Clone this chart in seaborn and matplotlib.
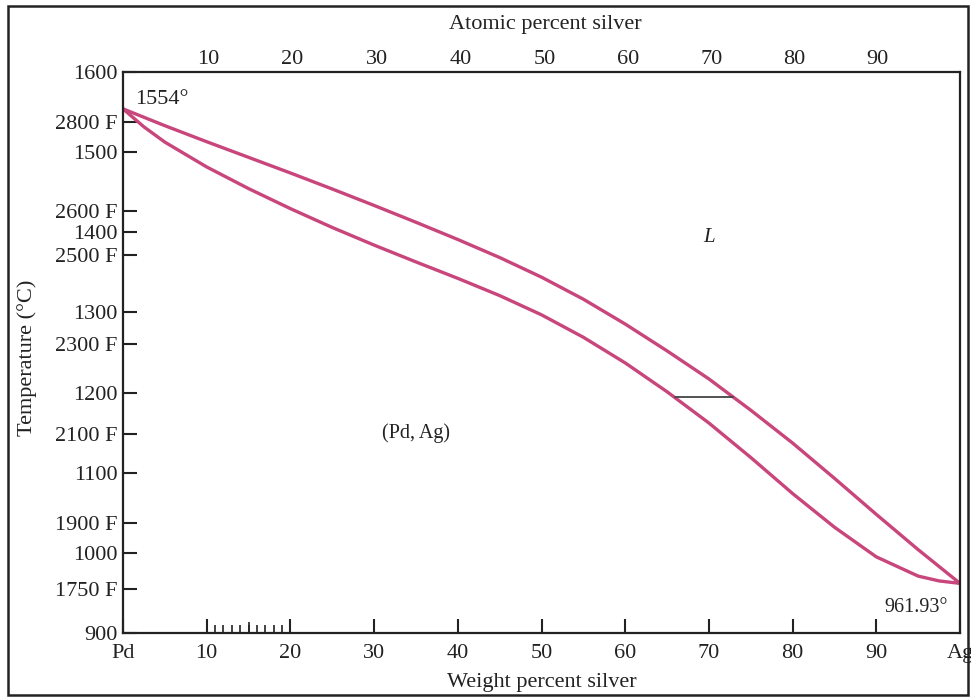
import numpy as np
import pandas as pd
import seaborn as sns
import matplotlib.pyplot as plt
from matplotlib.patches import Rectangle

# liquidus / solidus of Pd-Ag (wt% Ag, deg C)
liq_wt = [0, 5, 10, 15, 20, 25, 30, 35, 40, 45, 50, 55, 60, 65, 70, 75, 80, 85, 90, 95, 100]
liq_c = [1554, 1533, 1513, 1493.5, 1474, 1454, 1433.5, 1412.5, 1391, 1368.5, 1344,
         1316.5, 1285.5, 1252, 1217, 1178, 1137, 1093, 1048, 1004, 961.93]
sol_wt = [0, 2.5, 5, 10, 15, 20, 25, 30, 35, 40, 45, 50, 55, 60, 65, 70, 75, 80, 85,
          90, 95, 97.5, 100]
sol_c = [1554, 1531.5, 1512.5, 1481.5, 1454.5, 1429.5, 1406, 1384, 1363, 1342.5, 1321,
         1297, 1269, 1237, 1201, 1162, 1119, 1074, 1032, 995, 971, 965, 961.93]

tie_wt = [65.9, 72.9]
tie_c = [1194, 1194]

celsius_ticks = [900, 1000, 1100, 1200, 1300, 1400, 1500, 1600]
fahr_ticks = [2800, 2600, 2500, 2300, 2100, 1900, 1750]
wt_ticks = [0, 10, 20, 30, 40, 50, 60, 70, 80, 90, 100]
wt_labels = ['Pd', '10', '20', '30', '40', '50', '60', '70', '80', '90', 'Ag']
at_ticks = [10, 20, 30, 40, 50, 60, 70, 80, 90]

M_PD, M_AG = 106.42, 107.87
CURVE = '#c8467c'
INK = '#222222'


def wt_to_at(w):
    w = np.asarray(w, dtype=float)
    return 100 * (w / M_AG) / (w / M_AG + (100 - w) / M_PD)


def at_to_wt(a):
    a = np.asarray(a, dtype=float)
    return 100 * (a * M_AG) / (a * M_AG + (100 - a) * M_PD)


sns.set_theme(style='white')
plt.rcParams['font.family'] = ['Liberation Serif', 'DejaVu Serif']
plt.rcParams['text.color'] = INK

fig = plt.figure(figsize=(9.71, 6.99), dpi=100)
ax = fig.add_axes([0.1267, 0.0944, 0.862, 0.8026])

liq = pd.DataFrame({'wt': liq_wt, 'T': liq_c})
sol = pd.DataFrame({'wt': sol_wt, 'T': sol_c})
sns.lineplot(data=liq, x='wt', y='T', ax=ax, color=CURVE, lw=2.4, sort=False,
             solid_joinstyle='round')
sns.lineplot(data=sol, x='wt', y='T', ax=ax, color=CURVE, lw=2.4, sort=False,
             solid_joinstyle='round')
ax.plot(tie_wt, tie_c, color='#444444', lw=1.3)

ax.set_xlim(0, 100)
ax.set_ylim(900, 1600)

for s in ax.spines.values():
    s.set_color(INK)
    s.set_linewidth(1.6)

# celsius + fahrenheit ticks share the left axis
fahr_pos = [(f - 32) * 5 / 9 for f in fahr_ticks]
ax.set_yticks(celsius_ticks + fahr_pos)
ax.set_yticklabels([str(c) for c in celsius_ticks] + ['%d F' % f for f in fahr_ticks])
ax.tick_params(axis='y', left=True, direction='in', length=10, width=1.5, pad=4,
               labelsize=16, colors=INK)

ax.set_xticks(wt_ticks)
ax.set_xticklabels(wt_labels)
ax.set_xticks(range(11, 20), minor=True)
ax.tick_params(axis='x', which='major', bottom=True, direction='in', length=10,
               width=1.5, pad=8, labelsize=16, colors=INK)
ax.tick_params(axis='x', which='minor', bottom=True, direction='in', length=5.5,
               width=1.2, colors=INK)

# slightly longer tick at 15
mid = ax.secondary_xaxis('bottom')
mid.set_xticks([15])
mid.tick_params(bottom=True, direction='in', length=8, width=1.2,
                labelbottom=False, colors=INK)
mid.spines['bottom'].set_visible(False)

top = ax.secondary_xaxis('top', functions=(wt_to_at, at_to_wt))
top.set_xticks(at_ticks)
top.tick_params(length=0, pad=2, labelsize=16, colors=INK)
top.spines['top'].set_visible(False)
fig.text(545 / 971, 1 - 25 / 699, 'Atomic percent silver', fontsize=16,
         ha='center', va='center', color=INK)

ax.set_xlabel('Weight percent silver', fontsize=16, color=INK)
ax.xaxis.set_label_coords(0.5, -0.071)
ax.set_ylabel('Temperature (°C)', fontsize=16, color=INK)
ax.yaxis.set_label_coords(-0.103, 0.49)

ax.text(1.4, 1566, '1554°', fontsize=16, ha='left', va='center')
ax.text(98.6, 932, '961.93°', fontsize=14.5, ha='right', va='center')
ax.text(35, 1150, '(Pd, Ag)', fontsize=14.5, ha='center', va='center')
ax.text(70, 1394, 'L', fontsize=15, style='italic', ha='center', va='center')

# outer frame of the figure
fig.patches.append(Rectangle((0.008, 0.006), 0.989, 0.985, transform=fig.transFigure,
                             fill=False, edgecolor=INK, lw=1.8))

fig.savefig('out.png', dpi=100)
